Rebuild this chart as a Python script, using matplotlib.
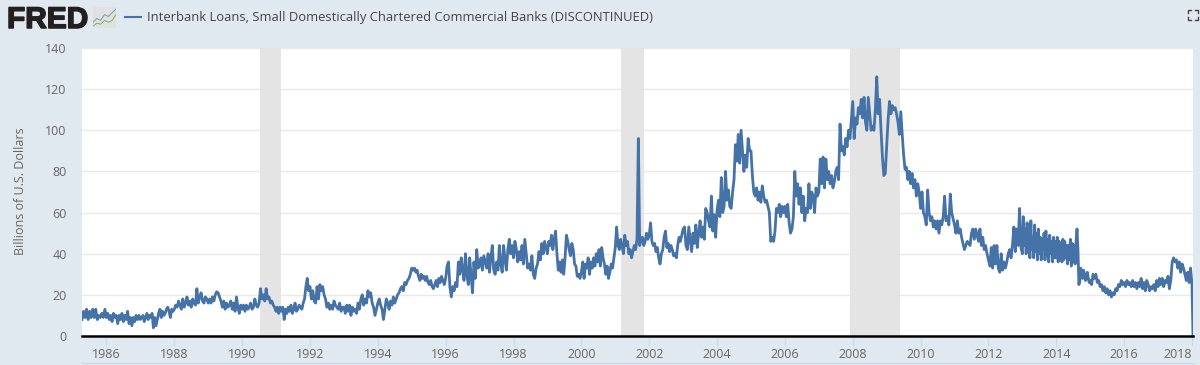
import matplotlib.pyplot as plt
import matplotlib.patheffects as pe
import numpy as np
from matplotlib.lines import Line2D

plt.rcParams['font.family'] = ['Open Sans', 'DejaVu Sans']

title = 'Interbank Loans, Small Domestically Chartered Commercial Banks (DISCONTINUED)'
y_label = 'Billions of U.S. Dollars'
x_ticks = [1986, 1988, 1990, 1992, 1994, 1996, 1998, 2000, 2002, 2004, 2006, 2008, 2010, 2012, 2014, 2016, 2018]
y_ticks = [0, 20, 40, 60, 80, 100, 120, 140]
recessions = [(1990.52, 1991.16), (2001.17, 2001.85), (2007.92, 2009.40)]

# billions of dollars, one list per year
v1985 = [8, 12, 9, 13, 8, 12, 9, 13, 9, 13, 8, 10, 9, 11, 9, 13]
v1986 = [9, 11, 8, 10, 7, 11, 9, 10, 6, 10, 8, 11, 7, 10, 8, 12, 6, 9, 5, 9, 7, 10, 8, 10]
v1987 = [8, 9, 10, 7, 9, 11, 8, 10, 9, 11, 4, 9, 5, 8, 11, 13, 9, 12, 10, 11, 13, 14, 12, 9, 13, 12]
v1988 = [13, 15, 14, 17, 15, 13, 18, 14, 16, 19, 15, 17, 14, 18, 16, 15, 23, 16, 19, 21, 17, 16, 19, 18]
v1989 = [16, 18, 16, 19, 17, 20, 21.5, 21, 19, 17, 14, 17, 13, 16, 14, 15, 17, 13, 16, 12, 19, 14, 11, 15]
v1990 = [13, 15, 12, 15, 13, 14, 16, 13, 14, 18, 15, 14, 16, 23, 18, 20, 17, 23, 18, 19, 16, 17, 15, 14]
v1991 = [12, 14, 11, 14, 12, 14, 8, 13, 11, 14, 12, 15, 11, 13, 16, 12, 13, 15, 14, 13, 16, 18, 24, 28, 22]
v1992 = [24, 18, 22, 17, 16, 24, 18, 25, 22, 24, 20, 18, 14, 16, 13, 15, 13, 17, 15, 14, 13, 16, 12, 14]
v1993 = [14, 11, 15, 12, 15, 10, 14, 12, 13, 11, 16, 13, 18, 20, 15, 18, 16, 22, 19, 21, 16, 14, 10, 13]
v1994 = [16, 18, 15, 13, 8, 13, 18, 16, 13, 17, 15, 19, 16, 18, 20, 21, 23, 24, 22, 26, 25, 27, 28, 30]
v1995 = [33, 32, 33, 31, 32, 29, 27, 30, 28, 29, 27, 29, 26, 25, 27, 24, 23, 25, 27, 24, 28, 26, 29, 27, 25]
v1996 = [28, 34, 36, 24, 19, 24, 22, 26, 24, 36, 30, 38, 32, 27, 40, 30, 25, 38, 29, 21, 36, 28, 42, 33]
v1997 = [34, 38, 32, 39, 36, 33, 40, 31, 38, 44, 32, 30, 36, 32, 44, 35, 31, 44, 37, 32, 42, 47, 40, 44]
v1998 = [38, 46, 42, 36, 41, 37, 44, 35, 47, 40, 33, 35, 32, 39, 30, 28, 33, 35, 41, 37, 45, 40, 46, 43]
v1999 = [40, 46, 44, 49, 42, 47, 51, 40, 32, 36, 31, 37, 30, 38, 49, 46, 42, 39, 45, 42, 35, 34, 29, 30, 28]
v2000 = [31, 36, 28, 35, 33, 38, 30, 36, 33, 38, 34, 40, 36, 42, 34, 43, 38, 35, 30, 34, 28, 31, 35, 33, 38]
v2001 = [43, 53, 44, 42, 47, 44, 40, 49, 44, 46, 40, 42, 38, 41, 44, 42, 47, 96, 44, 47, 48, 44, 46, 50, 47]
v2002 = [49, 55, 46, 44, 45, 41, 43, 38, 35, 40, 42, 48, 51, 43, 45, 41, 44, 42, 39, 40, 38, 44, 48, 46, 49]
v2003 = [52, 53, 44, 42, 53, 47, 41, 50, 45, 54, 43, 50, 56, 48, 53, 47, 62, 60, 56, 53, 68, 51, 59, 48]
v2004 = [61, 66, 58, 77, 60, 63, 80, 66, 71, 63, 62, 70, 76, 93, 85, 98, 84, 100, 90, 80, 88, 82, 96, 90]
v2005 = [90, 78, 70, 68, 72, 66, 70, 65, 73, 68, 65, 66, 63, 60, 46, 48, 46, 51, 62, 60, 64, 58, 63, 60]
v2006 = [63, 58, 64, 55, 50, 52, 58, 80, 68, 74, 64, 72, 60, 68, 56, 62, 60, 74, 62, 70, 68, 60, 72, 68]
v2007 = [70, 86, 74, 87, 72, 86, 76, 80, 74, 78, 72, 75, 80, 82, 76, 103, 90, 92, 88, 96, 92, 100, 96, 105]
v2008 = [114, 96, 106, 103, 111, 108, 115, 106, 116, 104, 100, 116, 108, 100, 102, 100, 110, 126, 108, 115, 100, 87, 78, 79]
v2009 = [92, 105, 114, 108, 112, 110, 111, 108, 104, 98, 109, 98, 88, 81, 82, 76, 80, 74, 79, 72, 76, 68, 74, 70]
v2010 = [62, 70, 60, 58, 54, 71, 60, 56, 58, 53, 56, 52, 56, 50, 56, 54, 58, 68, 56, 58, 54, 69, 60, 57]
v2011 = [54, 50, 56, 50, 52, 48, 45, 42, 44, 46, 45, 44, 50, 52, 47, 52, 49, 46, 52, 44, 48, 42, 44, 40]
v2012 = [37, 34, 43, 33, 44, 35, 44, 33, 31, 40, 32, 36, 33, 36, 40, 42, 38, 44, 53, 41, 52, 44, 62, 43]
v2013 = [40, 58, 44, 52, 40, 55, 42, 50, 38, 56, 42, 48, 38, 54, 41, 50, 37, 52, 40, 48, 37, 47, 42, 50,
         37, 51, 39, 47, 36, 49, 40, 46, 36, 48, 38, 46]
v2014 = [38, 48, 36, 46, 38, 45, 36, 47, 37, 46, 38, 44, 35, 44, 37, 47, 34, 45, 36, 44, 35, 46, 52, 42,
         25, 27, 33, 29, 28, 32, 30, 27, 28, 31, 28, 26]
v2015 = [27, 25, 30, 28, 30, 26, 27, 24, 25, 22, 24, 21, 23, 20, 22, 19, 21, 20, 23, 22, 25, 24, 27, 25]
v2016 = [26, 24, 27, 25, 26, 24, 27, 24, 26, 23, 26, 24, 28, 23, 26, 22, 27, 25, 22, 24, 23, 25, 22, 27]
v2017 = [24, 28, 25, 28, 24, 27, 26, 29, 23, 27, 36, 38, 36, 37, 33, 36, 31, 35, 33, 30, 27, 31, 26, 33]
v2018 = [25, 0]

per_year = [v1985, v1986, v1987, v1988, v1989, v1990, v1991, v1992, v1993, v1994, v1995, v1996,
            v1997, v1998, v1999, v2000, v2001, v2002, v2003, v2004, v2005, v2006, v2007, v2008,
            v2009, v2010, v2011, v2012, v2013, v2014, v2015, v2016, v2017, v2018]

dates = []
values = []
for i, vals in enumerate(per_year):
    year = 1985 + i
    start = 1985.28 if year == 1985 else year
    end = 2018.03 if year == 2018 else year + 1
    dates.extend(np.linspace(start, end, len(vals), endpoint=year == 2018))
    values.extend(vals)

bg = '#e1e9f0'
fig = plt.figure(figsize=(12, 3.65), dpi=100, facecolor=bg)
W, H = 1200, 365


def px(x, y):
    return x / W, 1 - y / H


ax = fig.add_axes([82 / W, 1 - 336 / H, (1193 - 82) / W, (336 - 48) / H])
ax.set_facecolor('white')
ax.set_xlim(1985.28, 2018.03)
ax.set_ylim(0, 140)

for a, b in recessions:
    ax.axvspan(a, b, color='#e4e4e4', lw=0, zorder=2)
ax.plot(dates, values, color='#4572a7', lw=2.0, zorder=3, solid_joinstyle='round')

ax.set_yticks(y_ticks)
ax.set_xticks(x_ticks)
ax.grid(axis='y', color='#e9e9e9', lw=1.0, zorder=1)
ax.set_axisbelow(True)
for s in ['top', 'left', 'right']:
    ax.spines[s].set_visible(False)
ax.spines['bottom'].set_color('black')
ax.spines['bottom'].set_linewidth(1.8)
ax.spines['bottom'].set_zorder(5)
ax.tick_params(axis='y', length=0, pad=11, labelsize=9, labelcolor='#666666')
ax.tick_params(axis='x', length=7.2, width=0.8, color='#ccd6eb', pad=1.5, labelsize=9, labelcolor='#666666')
ax.get_xticklabels()[-1].set_ha('right')
ax.set_ylabel(y_label, fontsize=9, color='#666666')
ax.yaxis.set_label_coords(*ax.transAxes.inverted().transform(fig.transFigure.transform(px(27, 191.5))))

# header
fig.text(*px(7, 28), 'FRED', family='Liberation Sans', weight='bold', fontsize=21.5, color='#231f20', va='baseline',
         path_effects=[pe.withStroke(linewidth=1.1, foreground='#231f20')])
fig.add_artist(Line2D([125 / W, 141 / W], [1 - 17 / H] * 2, color='#4572a7', lw=1.5))
fig.text(*px(147, 17), title, fontsize=9.36, color='#444444', va='center')

# little chart icon next to the logo
icon = fig.add_axes([93 / W, 1 - 28 / H, 23 / W, 21 / H], facecolor='#dfe2e0')
icon.plot([0, 1, 2, 3, 4, 5, 6], [3, 5, 4, 7, 6, 8, 10], color='#8096b4', lw=0.7)
icon.plot([0, 1, 2, 3, 4, 5, 6], [1, 2.5, 2, 4, 3, 4, 7], color='#8cab55', lw=0.7)
icon.set_xlim(0, 6)
icon.set_ylim(0, 11)
icon.set_xticks([])
icon.set_yticks([])
for s in icon.spines.values():
    s.set_visible(False)

# fullscreen corners
for (cx, cy, dx, dy) in [(1188, 10, 1, 1), (1198, 10, -1, 1), (1188, 20, 1, -1), (1198, 20, -1, -1)]:
    fig.add_artist(Line2D([cx / W, cx / W, (cx + 3 * dx) / W],
                          [1 - (cy + 3 * dy) / H, 1 - cy / H, 1 - cy / H], color='#444444', lw=1))

# line under the axis labels
fig.add_artist(Line2D([82 / W, 1193 / W], [1 - 362.5 / H] * 2, color='#ccd6eb', lw=0.8))

fig.savefig('out.png', dpi=100, facecolor=bg)
